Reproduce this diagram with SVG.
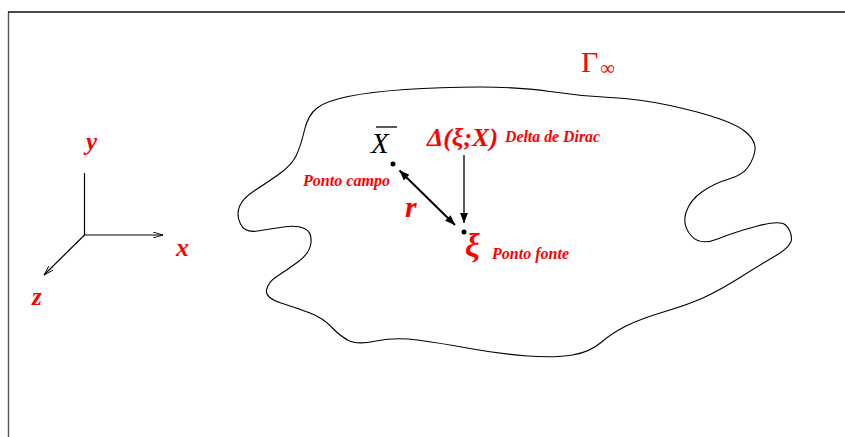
<svg xmlns="http://www.w3.org/2000/svg" width="845" height="437" viewBox="0 0 845 437">
<style>
.lbl{font-family:"Liberation Serif","Times New Roman",serif;font-weight:bold;font-style:italic;fill:#ff0000}
.sym{font-family:"Liberation Serif","Times New Roman",serif;fill:#ff0000}
.ln{stroke:#000;fill:none}
</style>
<defs>
<marker id="head" viewBox="0 0 10 8" refX="10" refY="4" markerWidth="10" markerHeight="8" markerUnits="userSpaceOnUse" orient="auto-start-reverse">
<path d="M0,0 L10,4 L0,8 z" fill="#000"/>
</marker>
<marker id="open" viewBox="0 0 10 6" refX="10" refY="3" markerWidth="10" markerHeight="6" markerUnits="userSpaceOnUse" orient="auto">
<path d="M0,0 L10,3 L0,6" fill="none" stroke="#000" stroke-width="0.9"/>
</marker>
</defs>
<rect width="845" height="437" fill="#fff"/>
<g id="frame">
<line x1="8.5" y1="12" x2="8.5" y2="437" stroke="#555" stroke-width="1.4"/>
<line x1="8" y1="12" x2="845" y2="12" stroke="#111" stroke-width="1.4"/>
</g>
<g id="boundary">
<path class="ln" stroke-width="1.1" d="M304.5,130 Q308,115 317,108 Q326,101 348,96.5 Q370,92 405,89.5 Q440,87 480,87 Q520,87 550,91.5 Q580,96 610,97.5 Q640,99 670,105.5 Q700,112 720,119 Q740,126 748,134 Q756,142 755,150 Q754,158 748.5,166.5 Q743,175 729,179 Q715,183 702.5,191.5 Q690,200 686,212.5 Q682,225 691,235.5 Q700,246 717.5,239 Q735,232 757.5,226 Q780,220 785.5,225 Q791,230 791.5,238 Q792,246 776,255.5 Q760,265 740,277.5 Q720,290 705,297 Q690,304 665,311.5 Q640,319 626,326 Q612,333 601,342.5 Q590,352 572.5,355 Q555,358 527.5,356 Q500,354 470,348.5 Q440,343 417.5,340 Q395,337 376,341 Q357,345 348.5,340.5 Q340,336 331.5,327 Q323,318 310,313 Q297,308 281,303 Q265,298 266.5,290 Q268,282 277.5,276 Q287,270 298.5,261.5 Q310,253 311,242.5 Q312,232 304.5,228.5 Q297,225 283.5,227 Q270,229 257.5,231 Q245,233 240.5,224 Q236,215 239.5,206.5 Q243,198 254,191 Q265,184 278.5,174.5 Q292,165 296.5,155 Q301,145 304.5,130 Z"/>
<text class="sym" x="581" y="72" font-size="30">Γ</text>
<text class="sym" x="600" y="75" font-size="21">∞</text>
</g>
<g id="axes">
<line class="ln" x1="84.5" y1="173" x2="84.5" y2="235" stroke-width="1.2"/>
<line class="ln" x1="84" y1="235" x2="163" y2="235" stroke-width="1.2" marker-end="url(#open)"/>
<line class="ln" x1="84.5" y1="235" x2="44" y2="275" stroke-width="1.2" marker-end="url(#open)"/>
<text class="lbl" x="86" y="150" font-size="25">y</text>
<text class="lbl" x="176" y="256" font-size="26">x</text>
<text class="lbl" x="32" y="305" font-size="25">z</text>
</g>
<g id="node-campo">
<circle cx="393" cy="164" r="2.5" fill="#000"/>
<text x="371" y="153" font-family="Liberation Serif, Times New Roman, serif" font-style="italic" font-size="29" fill="#000">X</text>
<line x1="376" y1="127" x2="397" y2="127" stroke="#000" stroke-width="1.3"/>
<text class="lbl" x="303" y="186" font-size="16" textLength="87" lengthAdjust="spacingAndGlyphs">Ponto campo</text>
</g>
<g id="node-fonte">
<circle cx="464" cy="232" r="2.5" fill="#000"/>
<text class="lbl" x="465" y="257" font-size="33">ξ</text>
<text class="lbl" x="492" y="259" font-size="16" textLength="77" lengthAdjust="spacingAndGlyphs">Ponto fonte</text>
</g>
<g id="node-delta">
<text class="lbl" x="427" y="146" font-size="26" textLength="71" lengthAdjust="spacingAndGlyphs">Δ(ξ;X)</text>
<text class="lbl" x="505" y="142" font-size="16" textLength="95" lengthAdjust="spacingAndGlyphs">Delta de Dirac</text>
</g>
<g id="connectors">
<line class="ln" x1="464" y1="155" x2="464" y2="223" stroke-width="1.3" marker-end="url(#head)"/>
<line class="ln" x1="399.5" y1="170.5" x2="455" y2="225" stroke-width="2" marker-start="url(#head)" marker-end="url(#head)"/>
<text class="lbl" x="405" y="217" font-size="30">r</text>
</g>
</svg>
